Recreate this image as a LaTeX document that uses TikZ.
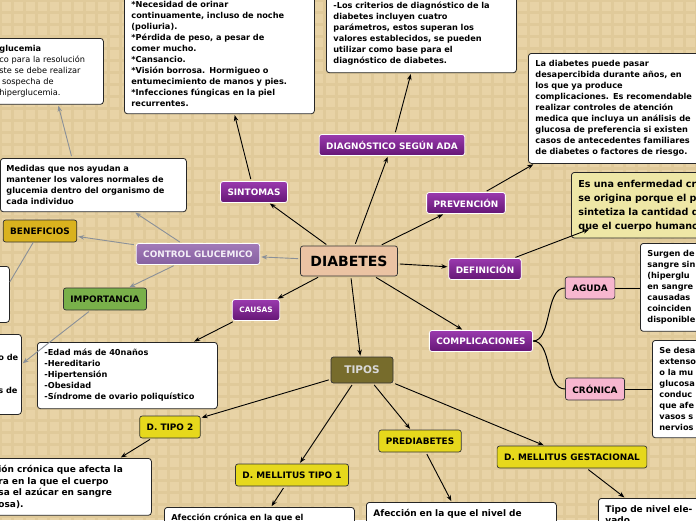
\documentclass[tikz,border=0pt]{standalone}
\usepackage{fontspec}
\setmainfont{DejaVu Sans}
\usetikzlibrary{arrows.meta}
\definecolor{bg}{HTML}{E8D3A6}
\definecolor{gridc}{HTML}{E0CA9A}
\definecolor{pTop}{HTML}{9A3AAE}
\definecolor{pBot}{HTML}{651675}
\definecolor{cgTop}{HTML}{A27AB8}
\definecolor{cgBot}{HTML}{8560A0}
\definecolor{peach}{HTML}{EBC3A3}
\definecolor{yel}{HTML}{E6D81C}
\definecolor{gold}{HTML}{D9B21E}
\definecolor{grn}{HTML}{79B04A}
\definecolor{olive}{HTML}{776C2C}
\definecolor{pink}{HTML}{F7B6CF}
\definecolor{defy}{HTML}{EEE7A6}
\definecolor{greyarr}{HTML}{8A9098}
\begin{document}
\begin{tikzpicture}[x=1pt,y=-1pt,
  base/.style={font=\fontsize{8.2}{11}\selectfont\bfseries},
  lab/.style={font=\fontsize{8.9}{11}\selectfont\bfseries},
  purp/.style={lab,rounded corners=2.5pt,draw=white,line width=0.8pt,top color=pTop,bottom color=pBot,text=white,inner xsep=7pt,minimum height=21pt},
  cgs/.style={purp,top color=cgTop,bottom color=cgBot,text=white!88!cgTop},
  tag/.style={lab,rounded corners=2.5pt,draw=black!80,line width=0.7pt,inner xsep=7pt,minimum height=22pt},
  txt/.style={base,rounded corners=3pt,draw=black!85,line width=0.8pt,fill=white,align=left,anchor=north west,inner sep=7pt},
  arr/.style={-{Stealth[length=6pt,width=4.5pt]},line width=0.9pt,black,shorten <=2pt,shorten >=1pt},
  garr/.style={arr,greyarr},
  ln/.style={line width=1pt,black}]
\useasboundingbox (0,0) rectangle (696,520);
\clip (0,0) rectangle (696,520);
\fill[bg] (0,0) rectangle (696,520);
\foreach \i in {0,12,...,696} {\draw[gridc,line width=3pt] (\i,0) -- (\i,520);}
\foreach \j in {0,12,...,520} {\draw[gridc,line width=3pt] (0,\j) -- (696,\j);}

% central
\node[tag,fill=peach,font=\fontsize{14}{16}\selectfont\bfseries,minimum width=97pt,minimum height=30pt] (dia) at (349,261) {DIABETES};

% top
\node[purp] (sin) at (254,192) {SINTOMAS};
\node[txt,text width=176pt] (sinb) at (124,-6) {{*}Necesidad de orinar\\continuamente, incluso de noche\\(poliuria).\\{*}Pérdida de peso, a pesar de\\comer mucho.\\{*}Cansancio.\\{*}Visión borrosa. Hormigueo o\\entumecimiento de manos y pies.\\{*}Infecciones fúngicas en la piel\\recurrentes.};
\node[purp] (dg) at (392,145) {DIAGNÓSTICO SEGÚN ADA};
\node[txt,text width=176pt] (dgb) at (326,-5) {-Los criterios de diagnóstico de la\\diabetes incluyen cuatro\\parámetros, estos superan los\\valores establecidos, se pueden\\utilizar como base para el\\diagnóstico de diabetes.};
\node[purp] (pre) at (466,203) {PREVENCIÓN};
\node[txt,text width=190pt] (preb) at (528,53) {La diabetes puede pasar\\desapercibida durante años, en\\los que ya produce\\complicaciones. Es recomendable\\realizar controles de atención\\medica que incluya un análisis de\\glucosa de preferencia si existen\\casos de antecedentes familiares\\de diabetes o factores de riesgo.};
\node[purp] (def) at (485,269) {DEFINICIÓN};
\node[txt,fill=defy,font=\fontsize{9.6}{14}\selectfont\bfseries,text width=200pt] (defb) at (571,172) {Es una enfermedad crónica que\\se origina porque el páncreas no\\sintetiza la cantidad de insulina\\que el cuerpo humano necesita};

% complications
\node[purp] (com) at (481,341) {COMPLICACIONES};
\node[tag,fill=pink] (agu) at (590,288) {AGUDA};
\node[tag,fill=pink] (cro) at (595,389) {CRÓNICA};
\node[txt,text width=80pt] (agub) at (640,243) {Surgen de\\sangre sin\\(hiperglu\\en sangre\\causadas\\coinciden\\disponible};
\node[txt,text width=80pt] (crob) at (652,340) {Se desa\\extenso\\o la mu\\glucosa\\conduc\\que afe\\vasos s\\nervios};

% control glucemico
\node[cgs] (cg) at (198,254) {CONTROL GLUCEMICO};
\node[txt,text width=174pt,inner xsep=6pt] (med) at (0,158) {Medidas que nos ayudan a\\mantener los valores normales de\\glucemia dentro del organismo de\\cada individuo};
\node[txt,text width=100pt,inner xsep=4pt] (glu) at (-5,38) {glucemia\\\mdseries co para la resolución\\\mdseries ste se debe realizar\\\mdseries\ sospecha de\\\mdseries hiperglucemia.};
\node[tag,fill=gold] (ben) at (40,231) {BENEFICIOS};
\node[txt,minimum width=10pt,minimum height=56pt] (benb) at (-5,266) {};
\node[tag,fill=grn] (imp) at (105,299) {IMPORTANCIA};
\node[txt,text width=20pt,inner xsep=3pt] (impb) at (-5,334) {\strut\\o de\\\strut\\\strut\\s de\\\strut};

% causas
\node[purp,font=\fontsize{7.4}{9}\selectfont\bfseries] (cau) at (256,310) {CAUSAS};
\node[txt,text width=166pt] (caub) at (37,342) {-Edad más de 40naños\\-Hereditario\\-Hipertensión\\-Obesidad\\-Síndrome de ovario poliquístico};

% tipos
\node[tag,fill=olive,text=black!15,font=\fontsize{10.5}{12}\selectfont\bfseries,minimum width=62pt,minimum height=26pt] (tip) at (362,370) {TIPOS};
\node[tag,fill=yel] (t2) at (170,427) {D. TIPO 2};
\node[txt,text width=150pt,inner xsep=3pt,font=\fontsize{9}{11.5}\selectfont\bfseries] (t2b) at (-5,458) {ión crónica que afecta la\\ra en la que el cuerpo\\sa el azúcar en sangre\\osa).};
\node[tag,fill=yel] (t1) at (292,475) {D. MELLITUS TIPO 1};
\node[txt,text width=176pt] (t1b) at (164,507) {Afección crónica en la que el\\\strut};
\node[tag,fill=yel] (pd) at (420,441) {PREDIABETES};
\node[txt,text width=176pt,font=\fontsize{9}{11.5}\selectfont\bfseries] (pdb) at (366,502) {Afección en la que el nivel de\\\strut};
\node[tag,fill=yel] (ge) at (572,457) {D. MELLITUS GESTACIONAL};
\node[txt,text width=100pt,font=\fontsize{9}{11.5}\selectfont\bfseries] (geb) at (598,498) {Tipo de nivel elevado\\en la sangre que};

% connectors
\draw[arr] (dia) -- (sin);
\draw[arr] (sin) -- (sinb);
\draw[arr] (dia) -- (dg);
\draw[arr] (dg) -- (dgb);
\draw[arr] (dia) -- (pre);
\draw[arr] (pre) -- (preb);
\draw[arr] (dia) -- (def);
\coordinate (defin) at (590,229);
\draw[arr] (def) -- (defin);
\draw[arr] (dia) -- (com);
\draw[ln] (com.east) .. controls (552,341) and (545,288) .. (agu.west);
\draw[ln] (com.east) .. controls (552,341) and (545,389) .. (cro.west);
\draw[ln] (agu) -- (agu -| agub.west);
\draw[ln] (cro) -- (cro -| crob.west);
\draw[garr] (dia) -- (cg);
\draw[garr] (cg) -- (med);
\coordinate (m1) at (72,158);
\draw[garr] (m1) -- (glu);
\draw[garr] (cg) -- (ben);
\draw[greyarr,line width=0.9pt] (ben) -- (benb);
\draw[garr] (cg) -- (imp);
\draw[garr] (imp) -- (impb);
\draw[arr] (dia) -- (cau);
\draw[arr] (cau) -- (caub);
\draw[arr] (dia) -- (tip);
\draw[arr] (tip) -- (t2);
\draw[arr] (t2) -- (t2b);
\draw[arr] (tip) -- (t1);
\draw[arr] (t1) -- (t1b);
\draw[arr] (tip) -- (pd);
\draw[arr] (pd) -- (pdb);
\draw[arr] (tip) -- (ge);
\draw[arr] (ge) -- (geb);
\end{tikzpicture}
\end{document}
